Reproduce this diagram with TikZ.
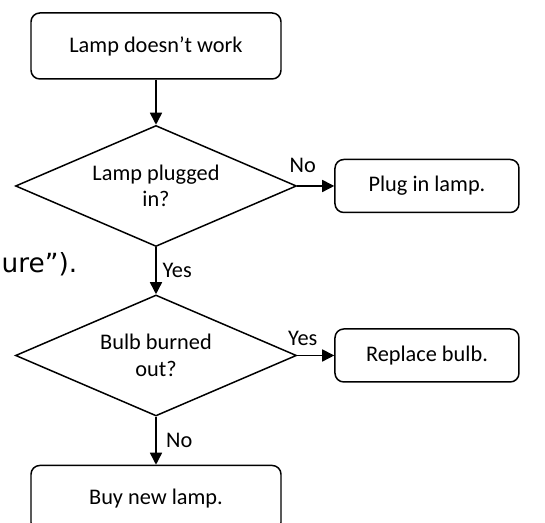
\documentclass[tikz,border=0pt]{standalone}
\usepackage{fontspec}
\setmainfont{Carlito}
\newfontfamily\slidefont{DejaVu Sans}
\usetikzlibrary{
  arrows.meta,
  positioning,
  shapes.geometric
}

\begin{document}
\begin{tikzpicture}[
      >={Triangle[length=0.24cm,width=0.24cm]},
      line width=0.85pt,
      caixa/.style={draw, rounded corners=5pt, minimum width=5cm, minimum height=1.32cm, align=center, font=\fontsize{12.7}{15}\selectfont},
      acao/.style={caixa, minimum width=3.68cm, minimum height=1.06cm},
      decisao/.style={draw, diamond, aspect=2.32, inner sep=0pt, minimum width=5.62cm, minimum height=2.42cm, align=center, font=\fontsize{12.7}{15}\selectfont},
      seta/.style={->},
      rotulo/.style={font=\fontsize{12.7}{15}\selectfont}
  ]
      \useasboundingbox (0,0) rectangle (10.9,-10.46);
      \clip (0,0) rectangle (10.9,-10.46);

      % Fluxo principal
      \node[caixa] (inicio) at (3.12,-0.92) {Lamp doesn’t work};
      \node[decisao, below=0.9cm of inicio] (plug) {Lamp plugged\\in?};
      \node[decisao, below=0.94cm of plug] (bulbo) {Bulb burned\\out?};
      \node[caixa, below=0.96cm of bulbo] (comprar) {Buy new lamp.};

      % Acoes
      \node[acao, right=0.74cm of plug] (ligar) {Plug in lamp.};
      \node[acao, right=0.74cm of bulbo] (trocar) {Replace bulb.};

      % Resto do slide
      \node[anchor=base west, inner sep=0pt, font=\slidefont\fontsize{15}{18}\selectfont] (resto) at (0.02,-5.45) {ure”).};

      \draw[seta] (inicio) -- (plug);
      \draw[seta] (plug.east) -- node[rotulo, above, pos=0.15, yshift=4pt] {No} (ligar);
      \draw[seta] (plug.south) -- node[rotulo, right] {Yes} (bulbo.north);
      \draw[seta] (bulbo.east) -- node[rotulo, above, pos=0.15, yshift=2pt] {Yes} (trocar);
      \draw[seta] (bulbo.south) -- node[rotulo, right, xshift=2pt] {No} (comprar);

  \end{tikzpicture}
\end{document}
